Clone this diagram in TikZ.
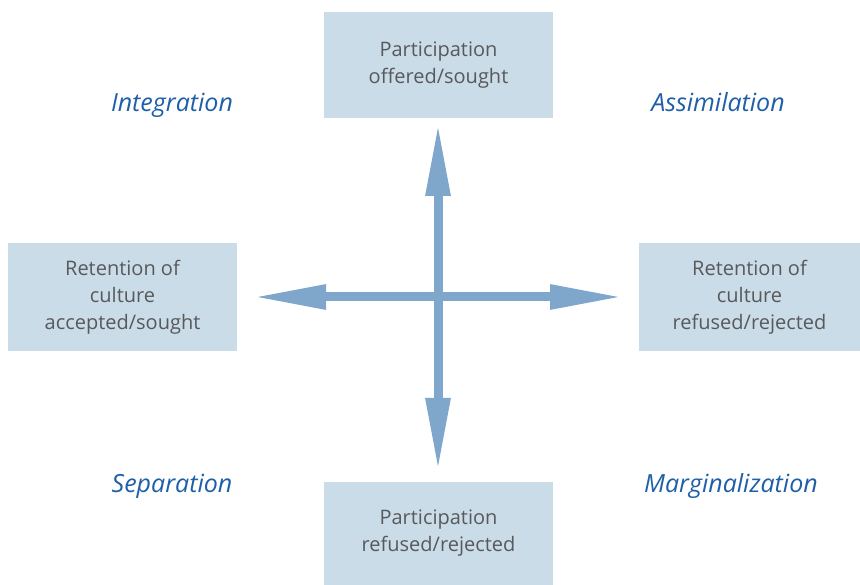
\documentclass[tikz,border=0pt]{standalone}
\usepackage{fontspec}
\setmainfont{Open Sans}
\usetikzlibrary{arrows.meta}
\definecolor{boxfill}{HTML}{CADCE8}
\definecolor{boxtext}{HTML}{58595B}
\definecolor{arrowc}{HTML}{7FA7CB}
\definecolor{labelc}{HTML}{1F5FA8}
\tikzset{
  boxnode/.style={fill=boxfill, text=boxtext, minimum width=#1, align=center,
    font=\fontsize{20}{27}\selectfont, inner sep=0pt},
  boxnode/.default=229pt,
  quad/.style={text=labelc, anchor=base, font=\fontsize{25}{28}\selectfont\itshape},
  bigarrow/.style={draw=arrowc, line width=9pt,
    {Triangle[length=73pt,width=23pt,fill=arrowc]}-{Triangle[length=73pt,width=23pt,fill=arrowc]}}
}
\begin{document}
\begin{tikzpicture}[x=1pt,y=-1pt]
\useasboundingbox (0,0) rectangle (860,585);
\node[boxnode, minimum height=106pt] (top) at (438.5,65) {Participation\\offered/sought};
\node[boxnode, minimum height=103pt] (bot) at (438.5,533.5) {Participation\\refused/rejected};
\node[boxnode, minimum height=108pt] (left) at (122.5,297) {Retention of\\culture\\accepted/sought};
\node[boxnode=221pt, minimum height=108pt] (right) at (749.5,297) {Retention of\\culture\\refused/rejected};
\coordinate (n) at (438,123);
\coordinate (s) at (438,471);
\coordinate (w) at (253,297);
\coordinate (e) at (623,297);
\draw[bigarrow] (s) -- (n);
\draw[bigarrow] (w) -- (e);
\node[quad] (integ) at (172,112) {Integration};
\node[quad] (assim) at (718,112) {Assimilation};
\node[quad] (sep) at (172,492) {Separation};
\node[quad] (marg) at (731,492) {Marginalization};
\end{tikzpicture}
\end{document}
